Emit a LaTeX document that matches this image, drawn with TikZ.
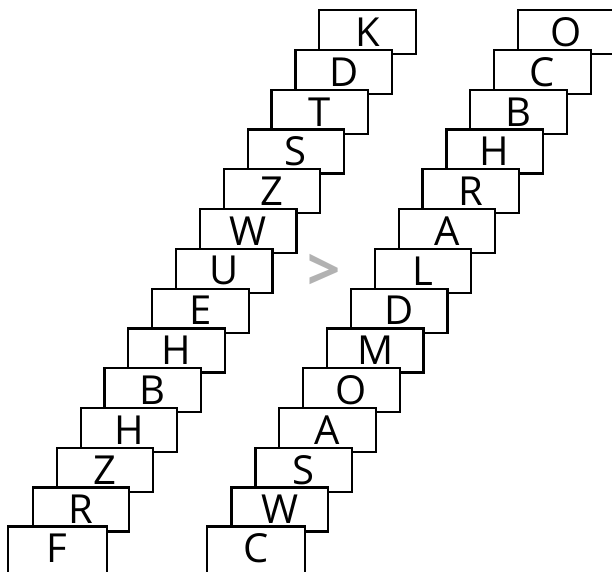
\documentclass[tikz,border=0pt]{standalone}
\usepackage{fontspec}
\setmainfont{Open Sans}
\tikzset{
  card/.style={draw=black, fill=white, line width=2.2pt, minimum width=96.5pt, minimum height=44pt, inner sep=0pt, font=\fontsize{40}{42}\selectfont},
  basecard/.style={card, draw=none, minimum height=42pt},
  cmp/.style={text=black!30, inner sep=0pt, font=\fontsize{58}{60}\selectfont\bfseries}
}
\begin{document}
\begin{tikzpicture}[x=1pt,y=1pt]
\useasboundingbox (0,0) rectangle (612,571);
\foreach \i/\t in {13/K,12/D,11/T,10/S,9/Z,8/W,7/U,6/E,5/H,4/B,3/H,2/Z,1/R}
  \node[card] (L\i) at ({57.25+23.87*\i},{21.7+39.77*\i}) {\t};
\node[basecard] (L0) at (57.25,22.5) {F};
\draw[line width=2.2pt] ([yshift=-2pt]L0.south west) -- (L0.north west) -- (L0.north east) -- ([yshift=-2pt]L0.south east);
\foreach \i/\t in {13/O,12/C,11/B,10/H,9/R,8/A,7/L,6/D,5/M,4/O,3/A,2/S,1/W}
  \node[card] (R\i) at ({255.95+23.87*\i},{21.7+39.77*\i}) {\t};
\node[basecard] (R0) at (255.95,22.5) {C};
\draw[line width=2.2pt] ([yshift=-2pt]R0.south west) -- (R0.north west) -- (R0.north east) -- ([yshift=-2pt]R0.south east);
\node[cmp] (gt) at (324,299) {>};
\end{tikzpicture}
\end{document}
